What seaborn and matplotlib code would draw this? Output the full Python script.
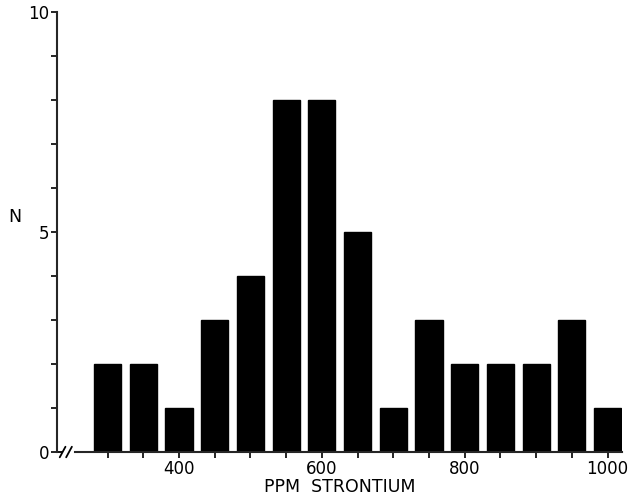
import matplotlib
matplotlib.use("Agg")
import matplotlib.pyplot as plt
import seaborn as sns
import numpy as np

ppm = [300, 350, 400, 450, 500, 550, 600, 650, 700, 750, 800, 850, 900, 950, 1000]
counts = [2, 2, 1, 3, 4, 8, 8, 5, 1, 3, 2, 2, 2, 3, 1]
xtick_labels = {400: "400", 600: "600", 800: "800", 1000: "1000"}
ytick_labels = {0: "0", 5: "5", 10: "10"}

sns.set_style("ticks")
plt.rcParams['font.family'] = ['DejaVu Sans']
plt.rcParams['text.color'] = 'black'

fig = plt.figure(figsize=(6.32, 4.97), dpi=100)
ax = fig.add_axes([0.090, 0.0905, 0.894, 0.885])

sns.barplot(x=ppm, y=counts, native_scale=True, color="black", saturation=1,
            width=0.76, edgecolor="black", ax=ax)

ax.set_xlim(229, 1020)
ax.set_ylim(0, 10)

xt = list(range(300, 1001, 50))
ax.set_xticks(xt)
ax.set_xticklabels([xtick_labels.get(t, "") for t in xt], fontsize=12)
yt = list(range(0, 11))
ax.set_yticks(yt)
ax.set_yticklabels([ytick_labels.get(t, "") for t in yt], fontsize=12)
ax.tick_params(axis='both', direction='out', length=4, width=1.2, colors='black', pad=1.5)

for s in ["top", "right"]:
    ax.spines[s].set_visible(False)
ax.spines["left"].set_linewidth(1.5)
ax.spines["bottom"].set_linewidth(1.5)
ax.spines["bottom"].set_bounds(254, 1020)

# axis break marks
for x0 in [233, 242]:
    ax.plot([x0, x0 + 8], [-0.12, 0.12], color="black", lw=1.3, clip_on=False)
ax.plot([229, 236], [0, 0], color="black", lw=1.3, clip_on=False)

ax.set_xlabel("PPM  STRONTIUM", fontsize=12.5, labelpad=0, color="black")
ax.set_ylabel("")
fig.text(15/632, 1 - 217/497, "N", fontsize=12.5, ha="center", va="center", color="black")

fig.savefig("out.png", dpi=100)
